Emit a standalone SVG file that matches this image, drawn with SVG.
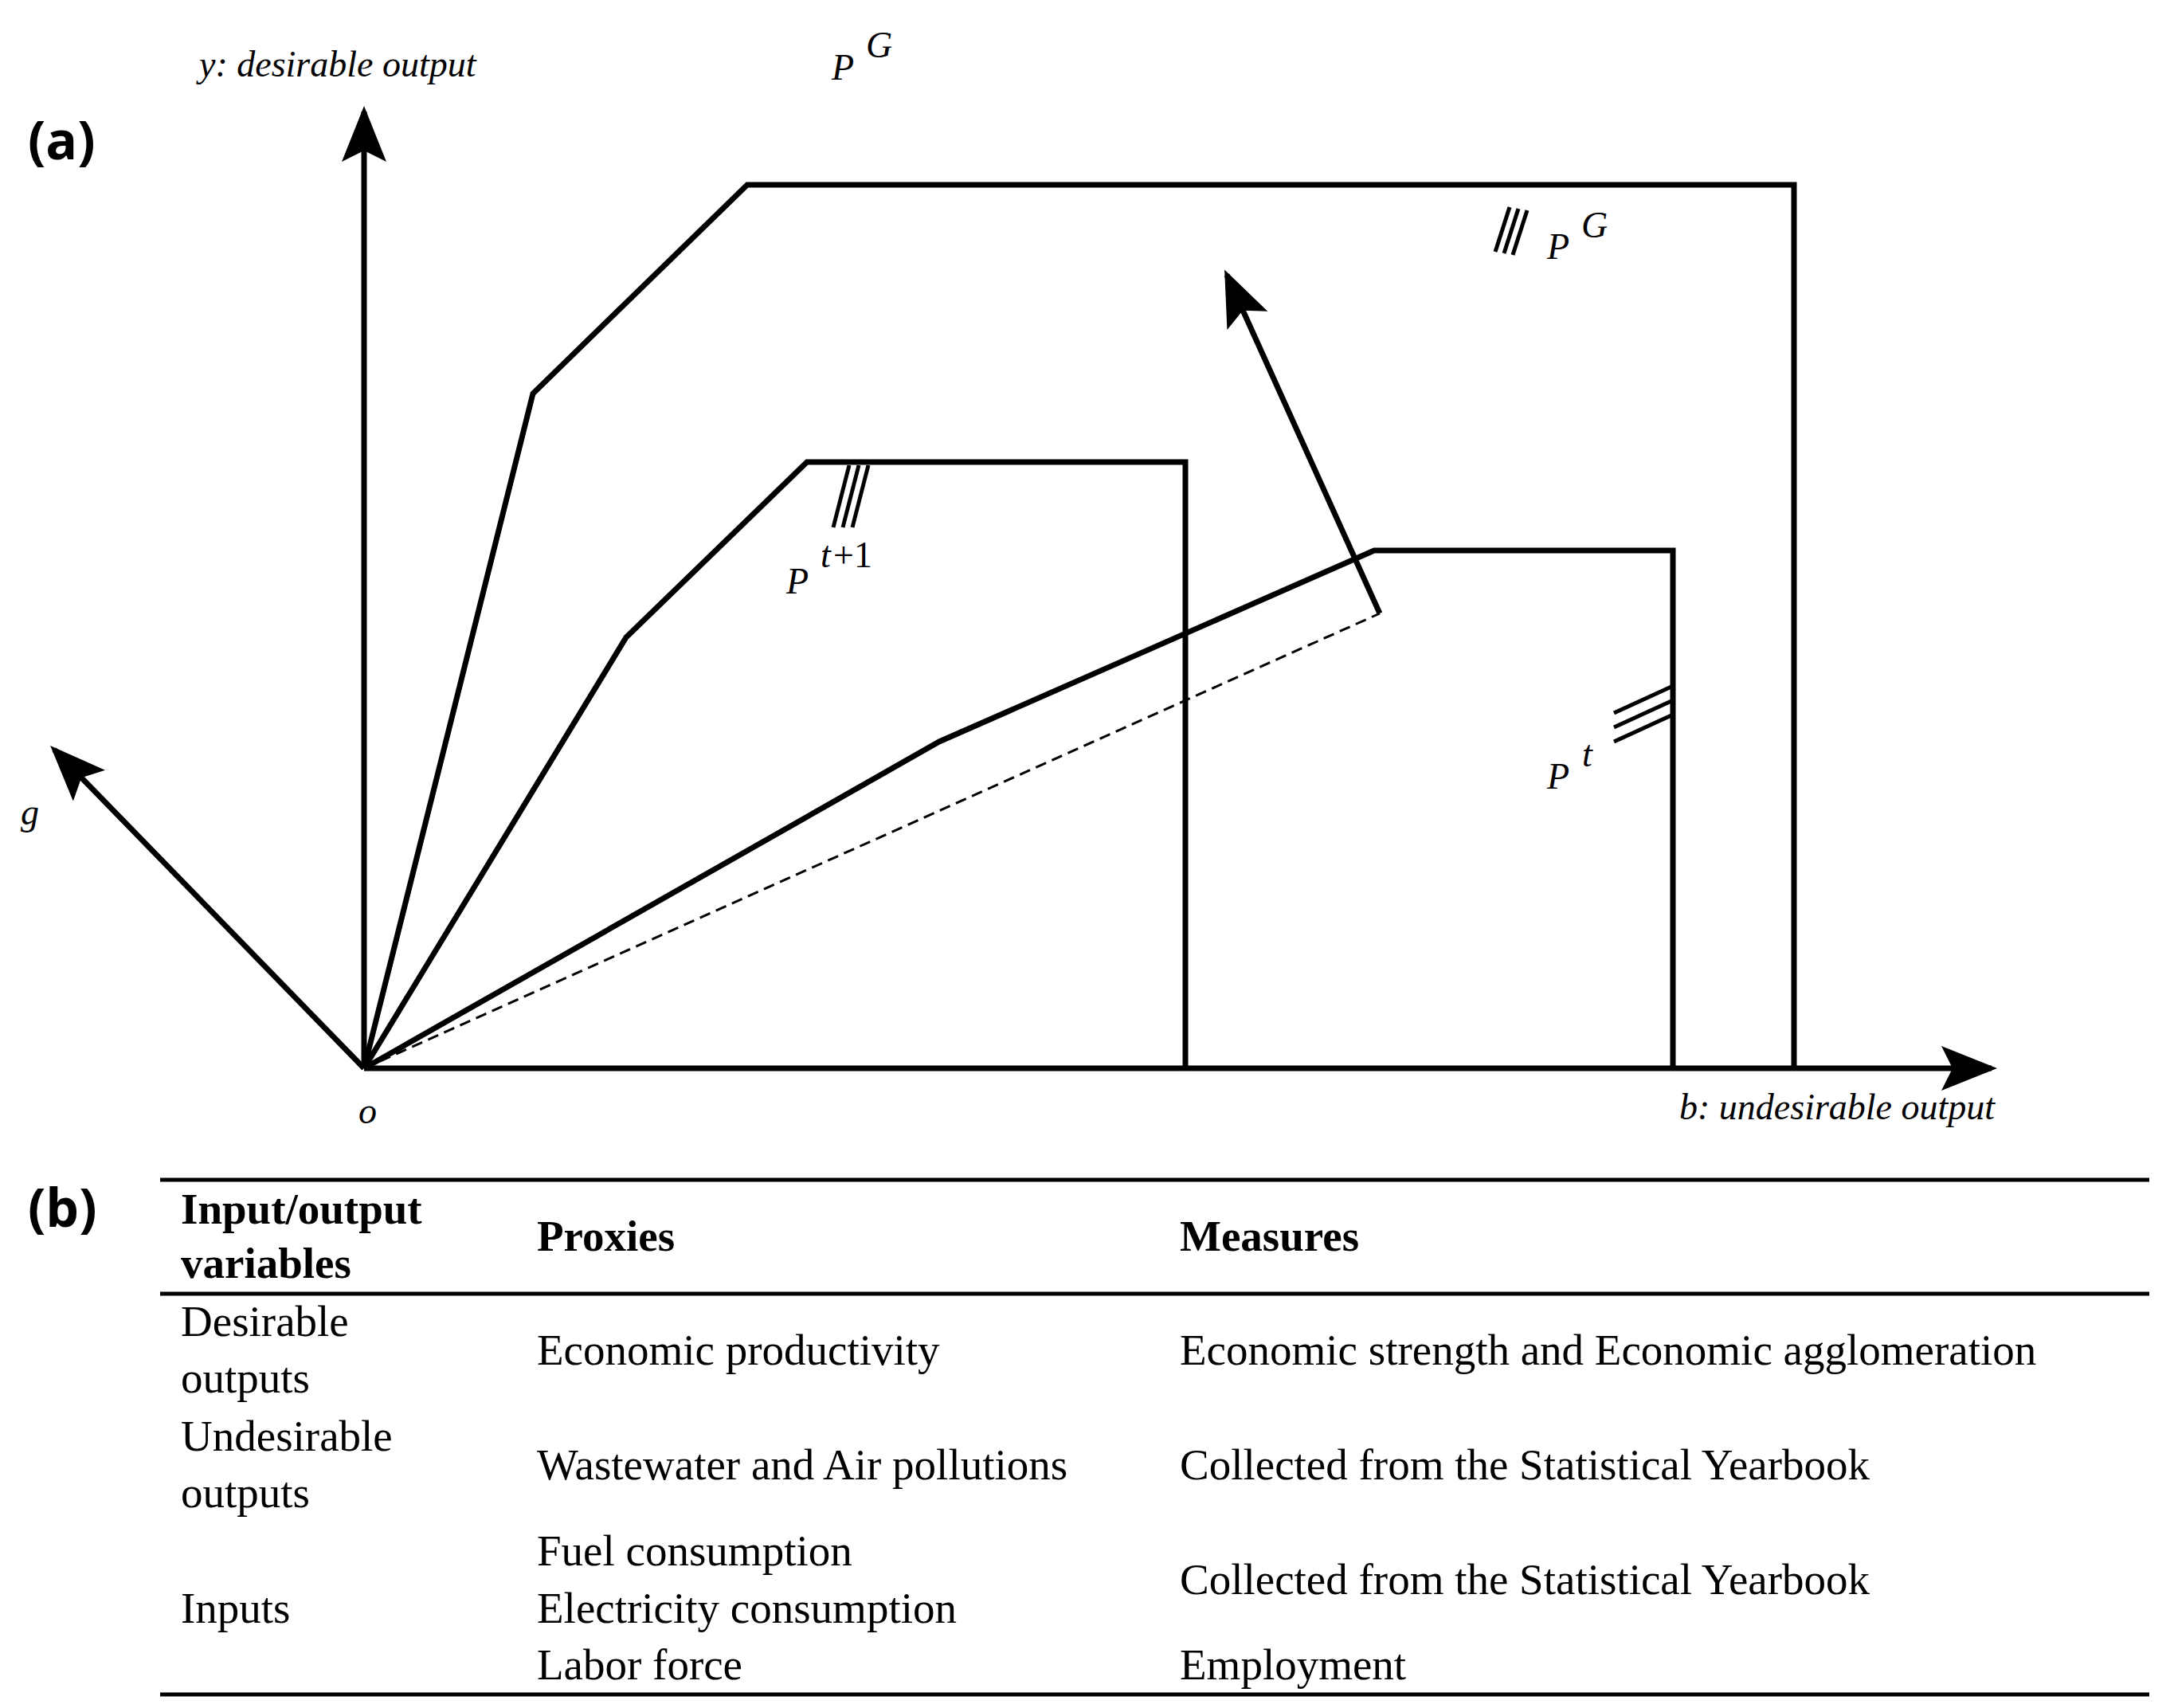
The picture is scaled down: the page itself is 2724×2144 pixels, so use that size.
<svg xmlns="http://www.w3.org/2000/svg" width="2724" height="2144" viewBox="0 0 2724 2144">
<style>
.ln{fill:none;stroke:#000;stroke-width:7;stroke-linejoin:miter}
.h{stroke:#000;stroke-width:5}
.m{font-family:"Liberation Serif",serif;font-style:italic;font-size:46px}
.t{font-family:"Liberation Serif",serif;font-size:55px}
.b{font-weight:bold}
.lab{font-family:"Open Sans","DejaVu Sans",sans-serif;font-weight:bold;font-size:66px}
.r{stroke:#000;stroke-width:5}
</style>
<defs>
<marker id="ar" markerWidth="10" markerHeight="8" refX="9" refY="4" orient="auto" markerUnits="strokeWidth">
<path d="M0,0 L10,4 L0,8 L2,4 Z" fill="#000"/>
</marker>
</defs>
<rect width="2724" height="2144" fill="#fff"/>
<text class="lab" x="35" y="200">(a)</text>
<g id="connectors">
<line class="ln" x1="457" y1="1341" x2="457" y2="140" marker-end="url(#ar)"/>
<line class="ln" x1="457" y1="1341" x2="2500" y2="1341" marker-end="url(#ar)"/>
<line class="ln" x1="457" y1="1341" x2="68" y2="941" marker-end="url(#ar)"/>
<line class="ln" x1="1732" y1="770" x2="1540" y2="345" marker-end="url(#ar)"/>
<line x1="457" y1="1341" x2="1732" y2="770" stroke="#000" stroke-width="3" stroke-dasharray="14,8"/>
</g>
<g id="PG">
<polyline class="ln" points="457,1341 669,494 938,232 2252,232 2252,1341"/>
<line class="h" x1="1877" y1="316" x2="1895" y2="260"/>
<line class="h" x1="1888" y1="318" x2="1906" y2="262"/>
<line class="h" x1="1899" y1="320" x2="1917" y2="264"/>
<text class="m" x="1942" y="325">P</text><text class="m" x="1985" y="298">G</text>
<text class="m" x="1044" y="100">P</text><text class="m" x="1087" y="72">G</text>
</g>
<g id="Pt1">
<polyline class="ln" points="457,1341 786,800 1013,580 1488,580 1488,1341"/>
<line class="h" x1="1046" y1="662" x2="1066" y2="584"/>
<line class="h" x1="1058" y1="662" x2="1078" y2="584"/>
<line class="h" x1="1070" y1="662" x2="1090" y2="584"/>
<text class="m" x="987" y="745">P</text><text class="m" x="1030" y="712">t</text><text class="m" style="font-style:normal" x="1046" y="712">+1</text>
</g>
<g id="Pt">
<polyline class="ln" points="457,1341 1179,931 1725,691 2100,691 2100,1341"/>
<line class="h" x1="2026" y1="895" x2="2098" y2="862"/>
<line class="h" x1="2026" y1="913" x2="2098" y2="880"/>
<line class="h" x1="2026" y1="931" x2="2098" y2="898"/>
<text class="m" x="1942" y="990">P</text><text class="m" x="1986" y="962">t</text>
</g>
<text class="m" x="250" y="96">y: desirable output</text>
<text class="m" x="26" y="1035">g</text>
<text class="m" x="450" y="1410">o</text>
<text class="m" x="2108" y="1405">b: undesirable output</text>
<g id="table">
<text class="lab" x="35" y="1540">(b)</text>
<line class="r" x1="201" y1="1481" x2="2698" y2="1481"/>
<line class="r" x1="201" y1="1624" x2="2698" y2="1624"/>
<line class="r" x1="201" y1="2127" x2="2698" y2="2127"/>
<text class="t b" x="227" y="1536">Input/output</text>
<text class="t b" x="227" y="1604">variables</text>
<text class="t b" x="674" y="1570">Proxies</text>
<text class="t b" x="1481" y="1570">Measures</text>
<text class="t" x="227" y="1677">Desirable</text>
<text class="t" x="227" y="1748">outputs</text>
<text class="t" x="674" y="1713">Economic productivity</text>
<text class="t" x="1481" y="1713">Economic strength and Economic agglomeration</text>
<text class="t" x="227" y="1821">Undesirable</text>
<text class="t" x="227" y="1892">outputs</text>
<text class="t" x="674" y="1857">Wastewater and Air pollutions</text>
<text class="t" x="1481" y="1857">Collected from the Statistical Yearbook</text>
<text class="t" x="674" y="1965">Fuel consumption</text>
<text class="t" x="227" y="2037">Inputs</text>
<text class="t" x="674" y="2037">Electricity consumption</text>
<text class="t" x="1481" y="2001">Collected from the Statistical Yearbook</text>
<text class="t" x="674" y="2108">Labor force</text>
<text class="t" x="1481" y="2108">Employment</text>
</g>
</svg>
